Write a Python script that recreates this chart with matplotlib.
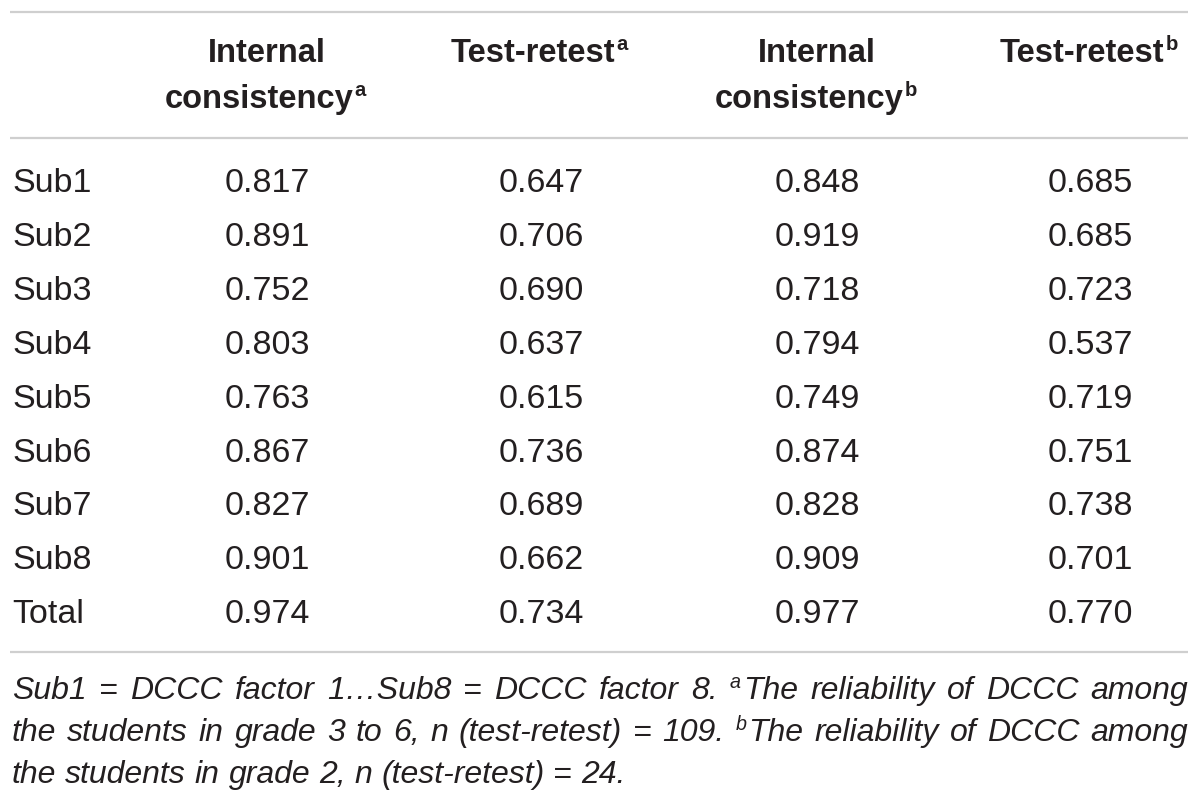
import matplotlib
matplotlib.use("Agg")
import matplotlib.pyplot as plt

row_labels = ["Sub1", "Sub2", "Sub3", "Sub4", "Sub5", "Sub6", "Sub7", "Sub8", "Total"]
internal_a = ["0.817", "0.891", "0.752", "0.803", "0.763", "0.867", "0.827", "0.901", "0.974"]
retest_a = ["0.647", "0.706", "0.690", "0.637", "0.615", "0.736", "0.689", "0.662", "0.734"]
internal_b = ["0.848", "0.919", "0.718", "0.794", "0.749", "0.874", "0.828", "0.909", "0.977"]
retest_b = ["0.685", "0.685", "0.723", "0.537", "0.719", "0.751", "0.738", "0.701", "0.770"]
headers = [("Internal", "consistency", "a"), ("Test-retest", None, "a"),
           ("Internal", "consistency", "b"), ("Test-retest", None, "b")]
# footnote lines: (text, superscript?) ; last flag says justify the line
footnote = [
    ([("Sub1 = DCCC factor 1\u2026Sub8 = DCCC factor 8.", False), ("a", True),
      ("The reliability of DCCC among", False)], True),
    ([("the students in grade 3 to 6, n (test-retest) = 109.", False), ("b", True),
      ("The reliability of DCCC among", False)], True),
    ([("the students in grade 2, n (test-retest) = 24.", False)], False),
]

FONT = "Liberation Sans"
TXT = "#231f20"
LINE = "#cfcfcf"

fig = plt.figure(figsize=(12, 8.02), dpi=100)
ax = fig.add_axes([0, 0, 1, 1])
ax.set_xlim(0, 1200)
ax.set_ylim(802, 0)
ax.axis("off")

for y in (12, 138, 652):
    ax.plot([10, 1188], [y, y], color=LINE, lw=1.6, solid_capstyle="butt")

col_x = [267, 541, 817, 1090]
columns = [internal_a, retest_a, internal_b, retest_b]

fig.canvas.draw()
rend = fig.canvas.get_renderer()


def width_of(t):
    return t.get_window_extent(renderer=rend).width


# headers
hsize = 23.5
for cx, (l1, l2, sup) in zip(col_x, headers):
    if l2 is None:
        t = ax.text(cx - 8, 62, l1, fontsize=hsize, family=FONT, weight="bold",
                    color=TXT, ha="center", va="baseline")
    else:
        ax.text(cx, 62, l1, fontsize=hsize, family=FONT, weight="bold",
                color=TXT, ha="center", va="baseline")
        t = ax.text(cx - 8, 108, l2, fontsize=hsize, family=FONT, weight="bold",
                    color=TXT, ha="center", va="baseline")
    xr = t.get_position()[0] + width_of(t) / 2
    ax.text(xr + 1, t.get_position()[1] - 12, sup, fontsize=hsize * 0.62,
            family=FONT, weight="bold", color=TXT, ha="left", va="baseline")

# body
bsize = 24.5
for i, lab in enumerate(row_labels):
    y = 192 + i * 53.9
    ax.text(12, y, lab, fontsize=bsize, family=FONT, color=TXT,
            ha="left", va="baseline")
    for cx, col in zip(col_x, columns):
        ax.text(cx, y, col[i], fontsize=bsize, family=FONT, color=TXT,
                ha="center", va="baseline")

# footnote, justified between x=12 and x=1188
fsize = 23.0
left, right = 12, 1188
for j, (segs, justify) in enumerate(footnote):
    y = 699 + j * 42
    # split into word tokens; a superscript glues to the following word
    tokens = []
    pending_sup = None
    for s, sup in segs:
        if sup:
            pending_sup = s
            continue
        for k, w in enumerate(s.split(" ")):
            tokens.append((pending_sup if k == 0 else None, w))
        pending_sup = None
    arts = []
    total = 0
    for sup, w in tokens:
        parts = []
        if sup:
            ts = ax.text(left, y - 11, sup, fontsize=fsize * 0.62, family=FONT,
                         style="italic", color=TXT, ha="left", va="baseline")
            parts.append((ts, width_of(ts) + 2))
        tw = ax.text(left, y, w, fontsize=fsize, family=FONT, style="italic",
                     color=TXT, ha="left", va="baseline")
        parts.append((tw, width_of(tw)))
        wsum = sum(p[1] for p in parts)
        arts.append((parts, wsum))
        total += wsum
    gap = fsize * 100 / 72 * 0.278
    if justify and len(arts) > 1:
        gap = (right - left - total) / (len(arts) - 1)
    x = left
    for parts, wsum in arts:
        xx = x
        for art, w in parts:
            art.set_x(xx)
            xx += w
        x += wsum + gap

fig.savefig("out.png", dpi=100, facecolor="white")
